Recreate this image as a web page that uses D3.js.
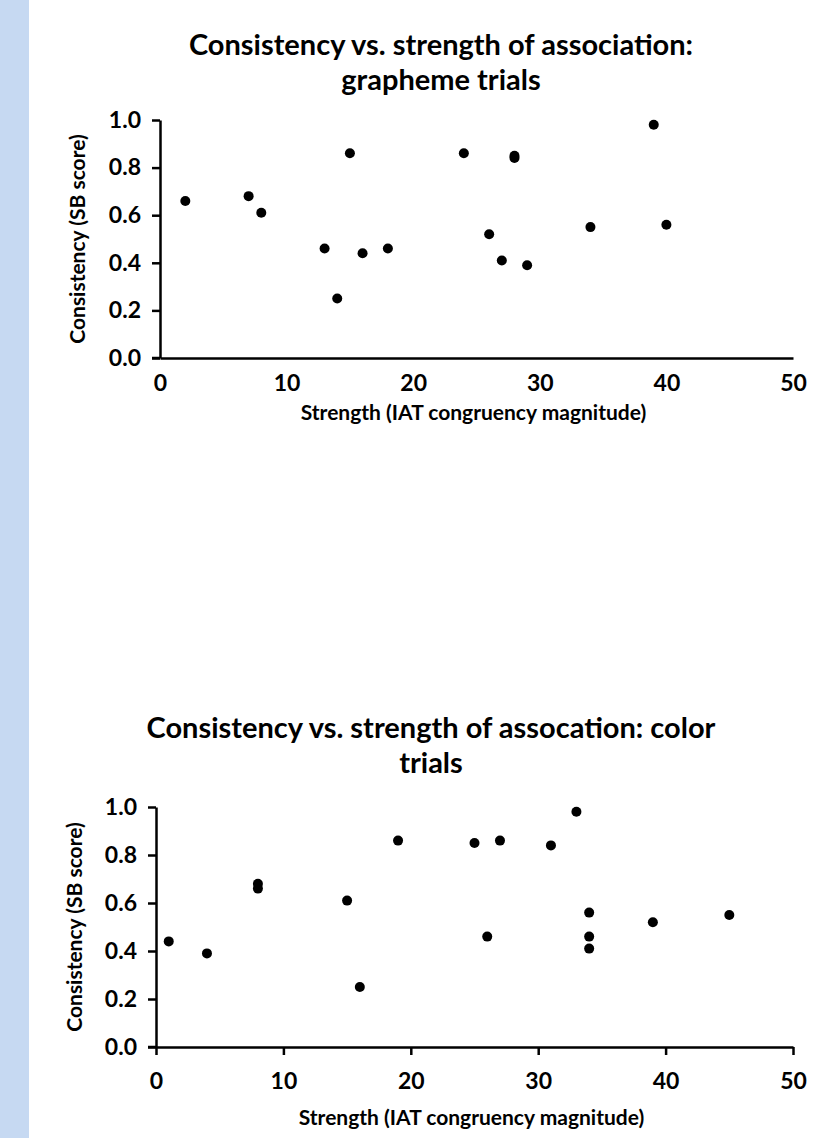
<!DOCTYPE html>
<html>
<head>
<meta charset="utf-8">
<script src="https://cdn.jsdelivr.net/npm/d3@7"></script>
<style>
  body { margin: 0; background: #fff; }
  svg { display: block; }
  text { font-family: Lato, "Open Sans", sans-serif; font-weight: bold; fill: #000; }
</style>
</head>
<body>
<div id="chart"></div>
<script>
// Grapheme trials
var graphemeStrength    = [2, 7, 8, 13, 14, 15, 16, 18, 24, 26, 27, 28, 28, 29, 34, 39, 40];
var graphemeConsistency = [0.66, 0.68, 0.61, 0.46, 0.25, 0.86, 0.44, 0.46, 0.86, 0.52, 0.41, 0.85, 0.84, 0.39, 0.55, 0.98, 0.56];

// Color trials
var colorStrength    = [1, 4, 8, 8, 15, 16, 19, 25, 26, 27, 31, 33, 34, 34, 34, 39, 45];
var colorConsistency = [0.44, 0.39, 0.68, 0.66, 0.61, 0.25, 0.86, 0.85, 0.46, 0.86, 0.84, 0.98, 0.56, 0.46, 0.41, 0.52, 0.55];

var xTicks = [0, 10, 20, 30, 40, 50];
var yTicks = [0, 0.2, 0.4, 0.6, 0.8, 1.0];

var xTitle = "Strength (IAT congruency magnitude)";
var yTitle = "Consistency (SB score)";

var width = 819, height = 1138;

var svg = d3.select('#chart')
  .append('svg')
    .attr('width', width)
    .attr('height', height);

svg.append("rect")
  .attr("width", width).attr("height", height)
  .attr("fill", "#fff");

// light blue strip on the left
svg.append("rect")
  .attr("x", 0).attr("y", 0)
  .attr("width", 29).attr("height", height)
  .attr("fill", "#c6d9f2");

function drawChart(opts) {
  var g = svg.append("g");

  var data = opts.xs.map(function(d, i) { return {x: d, y: opts.ys[i]}; });

  var x = d3.scaleLinear()
    .domain([0, 50])
    .range([opts.left, opts.right]);

  var y = d3.scaleLinear()
    .domain([0, 1])
    .range([opts.bottom, opts.top]);

  // title (two lines)
  g.append("text")
    .attr("x", opts.titleX)
    .attr("y", opts.titleY)
    .attr("text-anchor", "middle")
    .style("font-size", "29px")
    .selectAll("tspan")
    .data(opts.title)
    .enter().append("tspan")
      .attr("x", opts.titleX)
      .attr("dy", function(d, i) { return i == 0 ? 0 : 35; })
      .text(function(d) { return d; });

  // y axis
  var yAxis = g.append("g")
    .attr("transform", `translate(${opts.left},0)`)
    .call(d3.axisLeft(y)
      .tickValues(yTicks)
      .tickSize(8)
      .tickSizeOuter(0)
      .tickPadding(11)
      .tickFormat(d3.format(".1f")));

  // x axis
  var xAxis = g.append("g")
    .attr("transform", `translate(0,${opts.bottom})`)
    .call(d3.axisBottom(x)
      .tickValues(xTicks)
      .tickSize(opts.xTickSize)
      .tickSizeOuter(0)
      .tickPadding(opts.xTickPadding));

  [yAxis, xAxis].forEach(function(a) {
    a.selectAll("path.domain").attr("stroke", "#000").attr("stroke-width", 2.5);
    a.selectAll(".tick line").attr("stroke", "#000").attr("stroke-width", 2.5);
    a.selectAll(".tick text")
      .style("font-size", "23px")
      .style("font-family", "Lato, sans-serif")
      .attr("fill", "#000");
  });

  // extend the x axis line left to meet the 0.0 tick
  g.append("line")
    .attr("x1", opts.left - 8).attr("x2", opts.left)
    .attr("y1", opts.bottom).attr("y2", opts.bottom)
    .attr("stroke", "#000").attr("stroke-width", 2.5);

  // axis titles
  g.append("text")
    .attr("x", (opts.left + opts.right) / 2 - 3)
    .attr("y", opts.xTitleY)
    .attr("text-anchor", "middle")
    .style("font-size", "21px")
    .text(xTitle);

  g.append("text")
    .attr("transform", `translate(${opts.yTitleX},${(opts.top + opts.bottom) / 2}) rotate(-90)`)
    .attr("text-anchor", "middle")
    .style("font-size", "21px")
    .text(yTitle);

  // dots
  g.selectAll("circle")
    .data(data)
    .enter().append("circle")
      .attr("cx", function(d) { return x(d.x); })
      .attr("cy", function(d) { return y(d.y); })
      .attr("r", 5)
      .attr("fill", "#000");
}

drawChart({
  xs: graphemeStrength, ys: graphemeConsistency,
  title: ["Consistency vs. strength of association:", "grapheme trials"],
  titleX: 441, titleY: 55,
  left: 160, right: 793, top: 120, bottom: 358,
  xTickSize: 0, xTickPadding: 17,
  xTitleY: 420, yTitleX: 85
});

drawChart({
  xs: colorStrength, ys: colorConsistency,
  title: ["Consistency vs. strength of assocation: color", "trials"],
  titleX: 431, titleY: 738,
  left: 156, right: 793, top: 807, bottom: 1047,
  xTickSize: 8, xTickPadding: 18,
  xTitleY: 1125, yTitleX: 82
});
</script>
</body>
</html>
